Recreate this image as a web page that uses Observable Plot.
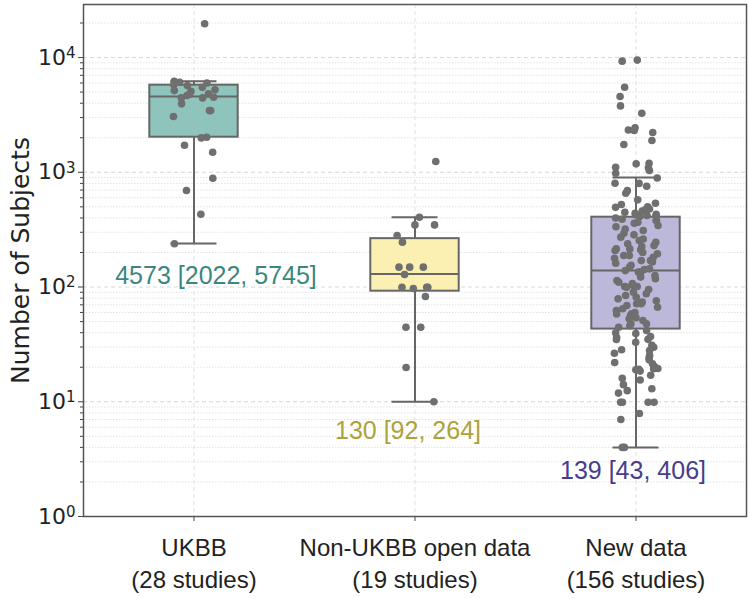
<!DOCTYPE html>
<html><head><meta charset="utf-8">
<script src="https://cdn.jsdelivr.net/npm/d3@7"></script>
<script src="https://cdn.jsdelivr.net/npm/@observablehq/plot@0.6"></script>
<style>body{margin:0;background:#fff} svg{display:block}</style>
</head><body><div id="chart"></div>
<script>
// ---- data ----
const categories = ["UKBB", "Non-UKBB open data", "New data"];
const studyCounts = ["(28 studies)", "(19 studies)", "(156 studies)"];
const medians = [4573, 130, 139];
const q1s = [2022, 92, 43];
const q3s = [5745, 264, 406];
const whiskerLow = [240, 10, 4];
const whiskerHigh = [6200, 406, 900];
const summaryLabels = ["4573 [2022, 5745]", "130 [92, 264]", "139 [43, 406]"];
const summaryAnchor = [126, 5.6, 2.5];
const boxColors = ["#8fc4bc", "#fcefb2", "#bcb8d9"];
const labelColors = ["#3b8780", "#aca33b", "#483d8b"];
const yTickValues = [1, 10, 100, 1000, 10000];

const ukbbValues = [19680, 6200, 6100, 6000, 5800, 5700, 5500, 5230, 5150, 5080,
  4820, 4820, 4670, 4510, 4450, 4450, 3950, 3450, 3450, 3060, 2020, 1995, 1720,
  1497, 887, 693, 431, 238];
const nonUkbbValues = [1240, 406, 348, 348, 281, 246, 149, 149, 149, 128.5, 99.6,
  99.6, 99.6, 97, 82.6, 44.6, 44.6, 19.9, 10];
const newDataValues = [
  9500, 9300, 5510, 4570, 3790, 3270, 2440, 2340, 2310, 2220, 1890, 1745, 1200,
  1185, 1107, 1094, 1036, 982, 892, 803, 800, 755, 692, 656, 575, 537, 524, 501,
  495, 479, 460, 449, 440, 426, 420, 415, 412, 430, 470,
  400, 390, 380, 380, 367, 360, 344, 335, 320, 311, 294, 285, 272, 262, 254, 245,
  238, 230, 225, 215, 215, 211, 208, 200, 195, 188, 188, 182, 178, 170, 170, 165,
  161, 155, 149, 144, 142, 139,
  135, 131, 126, 122, 118, 114, 110, 107, 103, 101, 101, 99.6, 95, 90, 87.3, 84.3,
  81.5, 78.9, 76, 73.8, 71.4, 71.4, 69, 66.7, 64.6, 62.4, 60, 58.3, 58.3, 56.5,
  54, 52.8, 51.1, 47.8, 47.8, 46, 44.6, 135,
  41.8, 40, 39.4, 37, 36.3, 35, 34.9, 33, 31, 29.9, 28.4, 28, 26.5, 25.3, 24.2,
  23.2, 22, 21.4, 20.3, 19.7, 19.5, 19.4, 19.2, 19, 18.5, 17, 16, 15.5, 14.1, 13,
  12.5, 11.9, 9.9, 9.9, 9.9, 9.9, 7.9, 7.0, 4.0, 4.0];

// ---- derived tables ----
const groups = [ukbbValues, nonUkbbValues, newDataValues];
const jitter = d3.randomUniform.source(d3.randomLcg(0.4242))(-0.1, 0.1);
const points = groups.flatMap((vals, i) => vals.map(v => ({i, v, xj: i + jitter()})));
const boxes = categories.map((c, i) => ({
  i, c, med: medians[i], q1: q1s[i], q3: q3s[i], lo: whiskerLow[i], hi: whiskerHigh[i],
  fill: boxColors[i], label: summaryLabels[i], ly: summaryAnchor[i], lc: labelColors[i]
}));
const minorTicks = [];
for (let k = 0; k <= 4; k++) for (let m = 2; m <= 9; m++) {
  const v = m * 10 ** k; if (v < 29000) minorTicks.push(v);
}
const edge = "#666";
const halfBox = 0.2, halfCap = 0.104;
const labelDx = [22, -7, -3];
const sans = "Liberation Sans, Arial, sans-serif";
const dejavu = "DejaVu Sans, sans-serif";

const chart = Plot.plot({
  width: 749, height: 598,
  marginLeft: 83, marginRight: 3, marginTop: 4, marginBottom: 82,
  x: {type: "linear", domain: [-0.5, 2.5], axis: null},
  y: {type: "log", domain: [1, 29000], axis: null},
  marks: [
    Plot.gridY(minorTicks, {stroke: "#dcdcdc", strokeOpacity: 1, strokeDasharray: "1.5,1.5", strokeWidth: 0.8}),
    Plot.gridY(yTickValues, {stroke: "#d2d2d2", strokeOpacity: 1, strokeDasharray: "4,3", strokeWidth: 0.9}),
    Plot.gridX([0, 1, 2], {stroke: "#dddddd", strokeOpacity: 1, strokeDasharray: "4,3", strokeWidth: 0.9}),
    Plot.ruleX(boxes, {x: "i", y1: "lo", y2: "hi", stroke: edge, strokeWidth: 2}),
    Plot.ruleY(boxes, {y: "lo", x1: d => d.i - halfCap, x2: d => d.i + halfCap, stroke: edge, strokeWidth: 2}),
    Plot.ruleY(boxes, {y: "hi", x1: d => d.i - halfCap, x2: d => d.i + halfCap, stroke: edge, strokeWidth: 2}),
    Plot.rect(boxes, {x1: d => d.i - halfBox, x2: d => d.i + halfBox, y1: "q1", y2: "q3", fill: "fill", stroke: edge, strokeWidth: 2}),
    Plot.ruleY(boxes, {y: "med", x1: d => d.i - halfBox, x2: d => d.i + halfBox, stroke: edge, strokeWidth: 2}),
    Plot.dot(points, {x: "xj", y: "v", r: 3.8, fill: "#6f6f6f", stroke: "none"}),
    ...boxes.map((b, k) => Plot.text([b], {x: "i", y: "ly", text: "label", fill: "lc", dx: labelDx[k],
      fontSize: 25, fontFamily: sans})),
    Plot.axisY(yTickValues, {tickSize: 5, tickPadding: 3, stroke: "#444",
      tickFormat: d => "10^" + Math.round(Math.log10(d)),
      fontSize: 22, fontFamily: dejavu, fill: "#222", label: null}),
    Plot.axisY(minorTicks, {tickSize: 3, tickFormat: () => "", stroke: "#444", label: null}),
    Plot.axisX([0, 1, 2], {tickSize: 5, tickPadding: 12, stroke: "#444",
      tickFormat: i => categories[i] + "\n" + studyCounts[i], lineHeight: 1.33,
      fontSize: 24, fontFamily: sans, fill: "#222", label: null}),
    Plot.frame({stroke: "#555", strokeWidth: 1.5}),
    Plot.text(["Number of Subjects"], {frameAnchor: "left", textAnchor: "middle", dx: -63, rotate: -90,
      fontSize: 25, fontFamily: dejavu, fill: "#222"})
  ]
});
// render exponents as superscripts
chart.querySelectorAll("text").forEach(t => {
  const s = t.textContent;
  if (/^10\^\d$/.test(s) && t.children.length === 0) {
    t.textContent = "10";
    const ts = document.createElementNS("http://www.w3.org/2000/svg", "tspan");
    ts.setAttribute("dy", "-0.45em");
    ts.setAttribute("font-size", "15");
    ts.textContent = s.slice(3);
    t.appendChild(ts);
  }
});
document.getElementById("chart").append(chart);
</script>
</body></html>
